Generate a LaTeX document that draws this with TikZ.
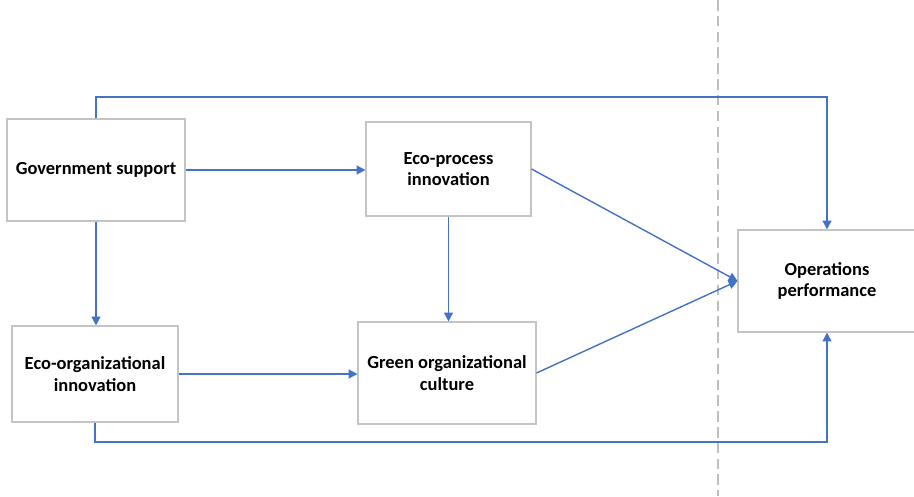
\documentclass[tikz,border=0pt]{standalone}
\usepackage{fontspec}
\setmainfont{Carlito}
\usetikzlibrary{arrows.meta}
\definecolor{lineblue}{RGB}{68,114,196}
\definecolor{boxgray}{RGB}{196,196,196}
\definecolor{dashgray}{RGB}{190,190,190}

\begin{document}
\begin{tikzpicture}[box/.style={draw=boxgray,line width=0.6pt,align=center,
      font=\fontsize{10.5pt}{12.4pt}\selectfont\bfseries,inner sep=0pt},
    link/.style={draw=lineblue,line width=0.8pt,-{Triangle[length=5pt,width=5pt]}}]
      \useasboundingbox (0,0) rectangle (18.28,9.92);
      \node[box,minimum width=3.56cm,minimum height=2.04cm] (gs) at (1.92,6.52) {Government support};
      \node[box,minimum width=3.30cm,minimum height=1.88cm] (ep) at (8.97,6.54) {Eco-process\\innovation};
      \node[box,minimum width=3.32cm,minimum height=1.92cm] (eo) at (1.90,2.44) {Eco-organizational\\innovation};
      \node[box,minimum width=3.56cm,minimum height=2.04cm] (gc) at (8.94,2.46) {Green organizational\\culture};
      \node[box,minimum width=3.56cm,minimum height=2.04cm] (op) at (16.54,4.30) {Operations\\performance};
      \coordinate (top) at (0,7.98);
      \coordinate (bot) at (0,1.08);
      \coordinate (dtop) at (14.36,9.92);
      \coordinate (dbot) at (14.36,0);
      \draw[dashgray,line width=0.6pt,dash pattern=on 6pt off 3pt] (dtop) -- (dbot);
      \draw[link] (gs.east) -- (gs.east -| ep.west);
      \draw[link] (gs.south) -- (gs.south |- eo.north);
      \draw[link] (eo.east) -- (eo.east -| gc.west);
      \draw[link] (ep.south) -- (ep.south |- gc.north);
      \draw[link] (ep.east) -- (op.west);
      \draw[link] (gc.east) -- (op.west);
      \draw[link] (gs.north) -- (gs.north |- top) -| (op.north);
      \draw[link] (eo.south) -- (eo.south |- bot) -| (op.south);
    \end{tikzpicture}
\end{document}
